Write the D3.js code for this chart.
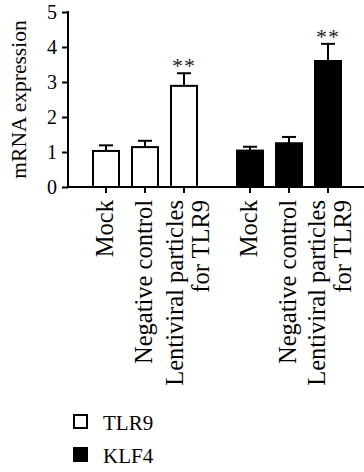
<!DOCTYPE html>
<html>
<head>
<meta charset="utf-8">
<script src="https://cdn.jsdelivr.net/npm/d3@7"></script>
<style>
  html, body { margin: 0; padding: 0; background: #fff; }
</style>
</head>
<body>
<svg id="chart" width="364" height="472"></svg>
<script>
const genes = ["TLR9", "KLF4"];
const categories = ["Mock", "Negative control", "Lentiviral particles for TLR9"];
const tlr9Values = [1.03, 1.14, 2.89];
const tlr9Errors = [0.16, 0.18, 0.36];
const klf4Values = [1.04, 1.25, 3.60];
const klf4Errors = [0.11, 0.18, 0.49];
const tlr9Marks = ["", "", "**"];
const klf4Marks = ["", "", "**"];
const yTicks = [0, 1, 2, 3, 4, 5];
const yLabel = "mRNA expression";

const FONT = "Liberation Serif";

const series = [
  { gene: "TLR9", values: tlr9Values, errors: tlr9Errors, marks: tlr9Marks, fill: "#ffffff" },
  { gene: "KLF4", values: klf4Values, errors: klf4Errors, marks: klf4Marks, fill: "#000000" }
];

const svg = d3.select("#chart");
const axisY0 = 187, axisY1 = 12, axisX = 68, axisXEnd = 364;

const y = d3.scaleLinear().domain([0, 5]).range([axisY0, axisY1]);
const xGroup = d3.scaleBand().domain(genes).range([86.5, 347.5]).paddingInner(0.1875).paddingOuter(0);
const xInner = d3.scaleBand().domain(categories).range([0, xGroup.bandwidth()])
  .paddingInner(1/3).paddingOuter(1/6);

// y axis
const yAxis = svg.append("g").attr("transform", `translate(${axisX},0)`)
  .call(d3.axisLeft(y).tickValues(yTicks).tickSize(6).tickPadding(5).tickFormat(d3.format("d")));
yAxis.attr("font-family", FONT);
yAxis.select(".domain").remove();
yAxis.selectAll(".tick line").attr("stroke", "#000").attr("stroke-width", 2);
yAxis.selectAll(".tick text").attr("font-size", 20).attr("fill", "#000").attr("font-family", FONT);
svg.append("line").attr("x1", axisX).attr("x2", axisX).attr("y1", y(5) - 1).attr("y2", axisY0 + 1)
  .attr("stroke", "#000").attr("stroke-width", 2);

// y label
svg.append("text")
  .attr("transform", `translate(26,${(axisY0 + axisY1) / 2}) rotate(-90)`)
  .attr("text-anchor", "middle")
  .attr("font-size", 21.5)
  .attr("font-family", FONT)
  .text(yLabel);

// bars
series.forEach((s, gi) => {
  const g = svg.append("g").attr("transform", `translate(${xGroup(s.gene)},0)`);
  categories.forEach((c, i) => {
    const x0 = xInner(c), w = xInner.bandwidth(), cx = x0 + w / 2;
    const top = y(s.values[i]);
    const errTop = y(s.values[i] + s.errors[i]);
    // error bar
    g.append("line").attr("x1", cx).attr("x2", cx).attr("y1", top).attr("y2", errTop)
      .attr("stroke", "#000").attr("stroke-width", 2);
    g.append("line").attr("x1", cx - 7).attr("x2", cx + 7).attr("y1", errTop).attr("y2", errTop)
      .attr("stroke", "#000").attr("stroke-width", 2);
    g.append("rect").attr("x", x0).attr("y", top).attr("width", w).attr("height", axisY0 - top)
      .attr("fill", s.fill).attr("stroke", "#000").attr("stroke-width", 2);
    if (s.marks[i]) {
      g.append("text").attr("x", cx).attr("y", errTop)
        .attr("text-anchor", "middle").attr("font-size", 22).attr("fill", "#222")
        .attr("letter-spacing", 1)
        .attr("font-family", FONT)
        .text(s.marks[i]);
    }
    // x tick
    g.append("line").attr("x1", cx).attr("x2", cx).attr("y1", axisY0).attr("y2", axisY0 + 6)
      .attr("stroke", "#000").attr("stroke-width", 2);
    // label
    const lines = c.includes(" for ") ? [c.split(" for ")[0], "for " + c.split(" for ")[1]] : [c];
    lines.forEach((ln, k) => {
      const bx = lines.length === 1 ? cx + 7 : cx - 1 - gi * 2 + k * 26;
      g.append("text")
        .attr("transform", `translate(${bx},200) rotate(-90)`)
        .attr("text-anchor", "end")
        .attr("font-size", 24.5)
        .attr("font-family", FONT)
        .text(ln);
    });
  });
});

// x axis line
svg.append("line").attr("x1", axisX - 1).attr("x2", axisXEnd).attr("y1", axisY0).attr("y2", axisY0)
  .attr("stroke", "#000").attr("stroke-width", 2);

// legend
const legend = svg.append("g");
series.forEach((s, i) => {
  const ly = 415 + i * 33;
  legend.append("rect").attr("x", 74).attr("y", ly).attr("width", 13).attr("height", 13)
    .attr("fill", s.fill).attr("stroke", "#000").attr("stroke-width", 2);
  legend.append("text").attr("x", 103).attr("y", ly + 15).attr("font-size", 21)
    .attr("font-family", FONT).text(s.gene);
});
</script>
</body>
</html>
